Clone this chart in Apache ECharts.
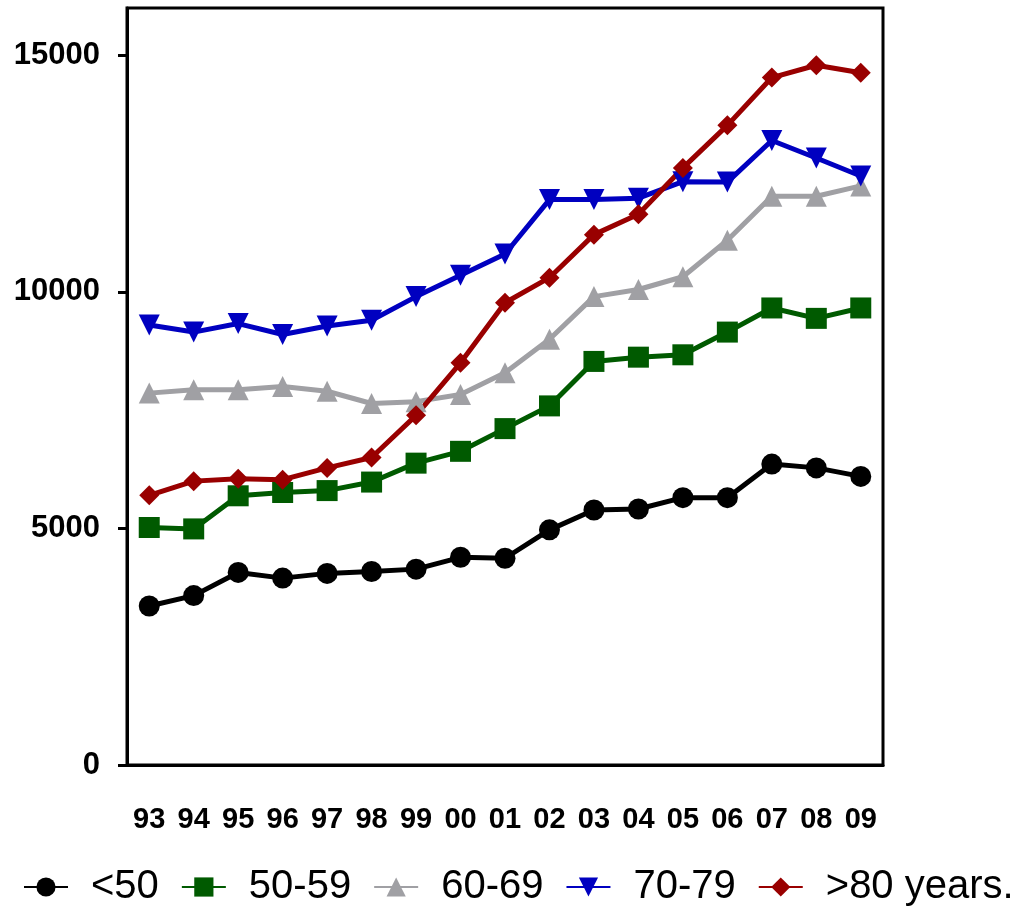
<!DOCTYPE html>
<html>
<head>
<meta charset="utf-8">
<script src="https://cdn.jsdelivr.net/npm/echarts@6/dist/echarts.min.js"></script>
<style>
html, body { margin: 0; padding: 0; background: #fff; }
#chart { width: 1024px; height: 910px; }
</style>
</head>
<body>
<div id="chart"></div>
<script>
// data
var years = ['93','94','95','96','97','98','99','00','01','02','03','04','05','06','07','08','09'];
var under50 = [3360,3580,4070,3950,4050,4090,4140,4390,4370,4970,5390,5410,5650,5650,6360,6280,6100];
var age5059 = [5020,4990,5690,5760,5800,5980,6380,6630,7110,7590,8530,8620,8670,9150,9660,9440,9660];
var age6069 = [7860,7930,7930,8000,7900,7640,7680,7830,8290,9000,9900,10050,10320,11090,12020,12020,12240];
var age7079 = [9300,9150,9330,9100,9280,9400,9900,10350,10800,11950,11950,11980,12330,12320,13200,12830,12450];
var over80 = [5700,6000,6050,6030,6280,6500,7390,8500,9770,10300,11210,11640,12620,13520,14530,14790,14630];
var yTicks = [0, 5000, 10000, 15000];

var myChart = echarts.init(document.getElementById('chart'));

function line(name, data, color, symbol, size) {
	return {
		name: name,
		type: 'line',
		data: data,
		symbol: symbol,
		symbolSize: size,
		lineStyle: { color: color, width: 5 },
		itemStyle: { color: color },
		z: 3
	};
}

var option = {
	animation: false,
	legend: {
		top: 867,
		left: 23,
		width: 1001,
		padding: 0,
		itemWidth: 44,
		itemHeight: 24,
		itemGap: 22,
		textStyle: { fontFamily: 'Liberation Sans', fontSize: 40, color: '#000', padding: [0, 0, 0, 18] },
		data: ['<50', '50-59', '60-69', '70-79', '>80 years.']
	},
	grid: {
		left: 127,
		right: 141,
		top: 8,
		bottom: 145,
		show: true,
		borderColor: '#000',
		borderWidth: 3
	},
	xAxis: {
		type: 'category',
		data: years,
		boundaryGap: true,
		axisLine: { lineStyle: { color: '#000', width: 3 } },
		axisTick: { show: false },
		axisLabel: {
			margin: 40,
			fontFamily: 'Liberation Sans',
			fontWeight: 'bold',
			fontSize: 29,
			color: '#000'
		}
	},
	yAxis: {
		type: 'value',
		min: 0,
		max: 16000,
		interval: 5000,
		splitLine: { show: false },
		axisLine: { show: true, lineStyle: { color: '#000', width: 3 } },
		axisTick: { show: true, length: 9, customValues: yTicks, lineStyle: { width: 3, color: '#000' } },
		axisLabel: {
			margin: 27,
			customValues: yTicks,
			fontFamily: 'Liberation Sans',
			fontWeight: 'bold',
			fontSize: 31,
			color: '#000',
			formatter: function (v) { return String(v); }
		}
	},
	series: [
		line('<50', under50, '#000000', 'circle', 21),
		line('50-59', age5059, '#005a00', 'rect', 21),
		line('60-69', age6069, '#a0a0a4', 'triangle', 21),
		line('70-79', age7079, '#0000c0', 'path://M0,0 L10,0 L5,10 Z', 21),
		line('>80 years.', over80, '#990000', 'diamond', 20)
	]
};
myChart.setOption(option);
</script>
</body>
</html>
